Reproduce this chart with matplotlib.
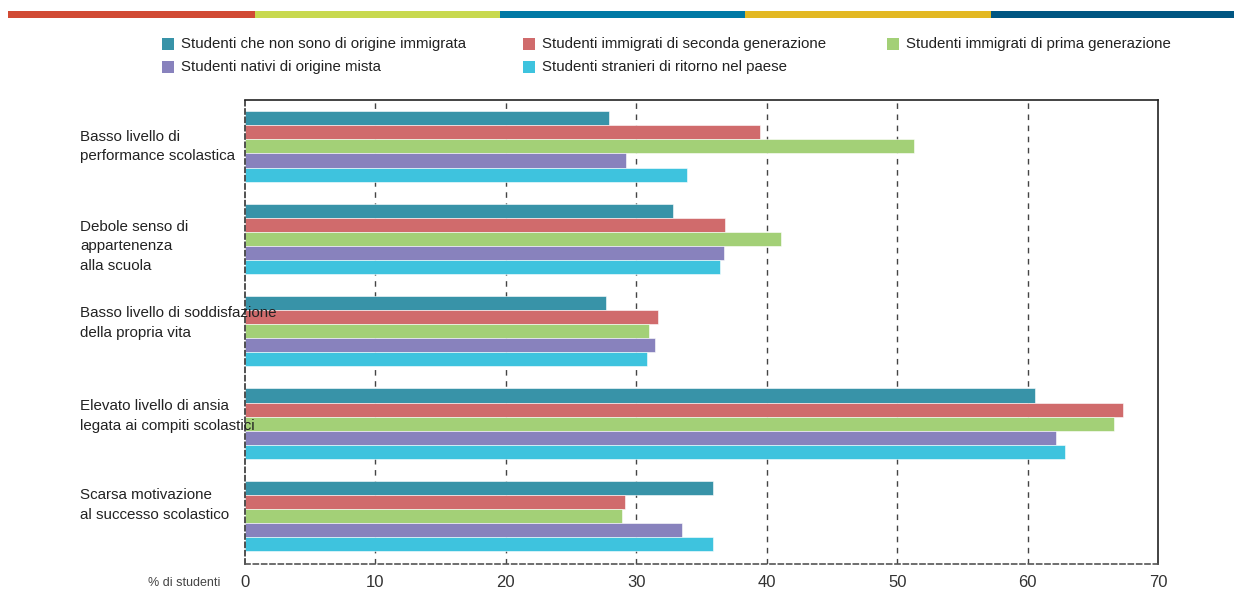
import matplotlib
matplotlib.use("Agg")
import matplotlib.pyplot as plt
from matplotlib.patches import Rectangle
from matplotlib.transforms import blended_transform_factory
import numpy as np

plt.rcParams['font.family'] = ['Liberation Sans', 'DejaVu Sans']

categories = [
    "Basso livello di\nperformance scolastica",
    "Debole senso di\nappartenenza\nalla scuola",
    "Basso livello di soddisfazione\ndella propria vita",
    "Elevato livello di ansia\nlegata ai compiti scolastici",
    "Scarsa motivazione\nal successo scolastico",
]
series_names = [
    "Studenti che non sono di origine immigrata",
    "Studenti immigrati di seconda generazione",
    "Studenti immigrati di prima generazione",
    "Studenti nativi di origine mista",
    "Studenti stranieri di ritorno nel paese",
]
non_immigrati = [27.9, 32.8, 27.7, 60.6, 35.9]
seconda_gen = [39.5, 36.8, 31.7, 67.3, 29.1]
prima_gen = [51.3, 41.1, 31.0, 66.6, 28.9]
origine_mista = [29.2, 36.7, 31.4, 62.2, 33.5]
ritorno = [33.9, 36.4, 30.8, 62.9, 35.9]
series_values = [non_immigrati, seconda_gen, prima_gen, origine_mista, ritorno]
colors = ["#3893A8", "#D06B6C", "#A3D077", "#8882BD", "#3EC3DE"]
x_ticks = [0, 10, 20, 30, 40, 50, 60, 70]
x_label = "% di studenti"

W, H = 1234, 603
fig = plt.figure(figsize=(W / 100, H / 100), dpi=100)
ax = fig.add_axes([245 / W, 1 - 564 / H, (1158 - 245) / W, (564 - 100) / H])

bar_h = 0.152
y = np.arange(len(categories))
for i, (vals, col) in enumerate(zip(series_values, colors)):
    ax.barh(y + (i - 2) * bar_h, vals, height=bar_h, color=col,
            edgecolor='white', linewidth=0.4, zorder=2)

ax.set_xlim(0, 70)
ax.set_ylim(4.52, -0.503)
ax.set_xticks(x_ticks)
ax.set_xticklabels([str(t) for t in x_ticks], fontsize=12, color='#333333')
ax.tick_params(axis='x', length=0, pad=8)
ax.set_yticks([])
for t in x_ticks[1:-1]:
    ax.axvline(t, color='#444444', linestyle=(0, (4, 4)), linewidth=1.0, zorder=1)

ax.spines['top'].set_color('#222222')
ax.spines['right'].set_color('#222222')
ax.spines['left'].set_linestyle((0, (3, 2)))
ax.spines['left'].set_color('#333333')
ax.spines['bottom'].set_linestyle((0, (3, 2)))
ax.spines['bottom'].set_color('#555555')
for s in ax.spines.values():
    s.set_linewidth(1.2)

# category labels
label_offsets = [0.0, 0.08, -0.09, -0.08, -0.12]
trans = blended_transform_factory(fig.transFigure, ax.transData)
for yi, (cat, off) in enumerate(zip(categories, label_offsets)):
    ax.text(80 / W, yi + off, cat, transform=trans, ha='left', va='center',
            fontsize=10.9, color='#222222', linespacing=1.5)

fig.text(220 / W, 1 - 583 / H, x_label, ha='right', va='center',
         fontsize=9, color='#444444')

# top colour band
band_colors = ["#D14A34", "#C8D94F", "#0079A5", "#E3B822", "#005682"]
band_edges = [8, 255, 500, 745, 991, 1234]
for c, x0, x1 in zip(band_colors, band_edges[:-1], band_edges[1:]):
    fig.add_artist(Rectangle((x0 / W, 1 - 18 / H), (x1 - x0) / W, 7 / H,
                             transform=fig.transFigure, color=c, lw=0))

# legend
legend_pos = [(162, 44), (523, 44), (887, 44), (162, 67), (523, 67)]
for name, col, (lx, ly) in zip(series_names, colors, legend_pos):
    fig.add_artist(Rectangle((lx / W, 1 - (ly + 6) / H), 12 / W, 12 / H,
                             transform=fig.transFigure, color=col, lw=0))
    fig.text((lx + 19) / W, 1 - ly / H, name, ha='left', va='center',
             fontsize=10.8, color='#222222')

fig.savefig("out.png", dpi=100)
